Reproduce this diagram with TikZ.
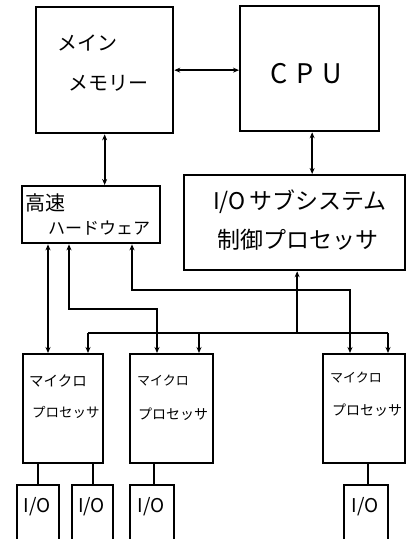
\documentclass[tikz,border=0pt]{standalone}
\usepackage{fontspec}
\newfontfamily\jp{Noto Sans CJK JP}
\usetikzlibrary{arrows.meta}
\tikzset{
  box/.style={draw, line width=2.3pt, rectangle, inner sep=0pt, anchor=north west},
  lbl/.style={inner sep=0pt, anchor=west, font=\jp},
  conn/.style={line width=2pt, {Stealth[length=6pt,width=5pt]}-{Stealth[length=6pt,width=5pt]}},
  toarr/.style={line width=2pt, -{Stealth[length=6pt,width=5pt]}},
  plain/.style={line width=2pt},
}
\begin{document}
\begin{tikzpicture}[x=1pt,y=-1pt]
\useasboundingbox (0,0) rectangle (414,539);
\clip (0,0) rectangle (414,539);
% boxes
\node[box, minimum width=137pt, minimum height=126pt] (mem) at (35,6) {};
\node[box, minimum width=139pt, minimum height=125pt] (cpu) at (239,5) {};
\node[box, minimum width=138pt, minimum height=57pt] (hs) at (21,185) {};
\node[box, minimum width=221pt, minimum height=95pt] (ioc) at (183,174) {};
\node[box, minimum width=80pt, minimum height=109pt] (mp1) at (22,353) {};
\node[box, minimum width=83pt, minimum height=109pt] (mp2) at (129,353) {};
\node[box, minimum width=82pt, minimum height=109pt] (mp3) at (322,353) {};
\node[box, minimum width=42pt, minimum height=62pt] (io1) at (16,484) {};
\node[box, minimum width=41pt, minimum height=62pt] (io2) at (71,484) {};
\node[box, minimum width=44pt, minimum height=62pt] (io3) at (129,484) {};
\node[box, minimum width=44pt, minimum height=62pt] (io4) at (343,484) {};
% texts
\node[lbl, font=\jp\fontsize{20}{20}\selectfont] (t1) at (57,43) {メイン};
\node[lbl, font=\jp\fontsize{20}{20}\selectfont] (t2) at (68,83) {メモリー};
\node[lbl, font=\jp\fontsize{27}{27}\selectfont] (t3) at (270,74) {C\hspace{9pt}P\hspace{9pt}U};
\node[lbl, font=\jp\fontsize{20}{20}\selectfont] (t4) at (25,203) {高速};
\node[lbl, font=\jp\fontsize{17}{17}\selectfont] (t5) at (48,228) {ハードウェア};
\node[lbl, font=\jp\fontsize{23}{23}\selectfont] (t6) at (213,202) {I/O\,サブシステム};
\node[lbl, font=\jp\fontsize{23}{23}\selectfont] (t7) at (217,240) {制御プロセッサ};
\node[lbl, font=\jp\fontsize{14.5}{14.5}\selectfont] (m1a) at (29,381) {マイクロ};
\node[lbl, font=\jp\fontsize{13.5}{13.5}\selectfont] (m1b) at (32,412) {プロセッサ};
\node[lbl, font=\jp\fontsize{13}{13}\selectfont] (m2a) at (137,381) {マイクロ};
\node[lbl, font=\jp\fontsize{14}{14}\selectfont] (m2b) at (138,414) {プロセッサ};
\node[lbl, font=\jp\fontsize{13}{13}\selectfont] (m3a) at (330,378) {マイクロ};
\node[lbl, font=\jp\fontsize{14}{14}\selectfont] (m3b) at (332,410) {プロセッサ};
\node[inner sep=0pt, font=\jp\fontsize{19}{19}\selectfont] (i1) at (37,507) {I/O};
\node[inner sep=0pt, font=\jp\fontsize{19}{19}\selectfont] (i2) at (91.5,507) {I/O};
\node[inner sep=0pt, font=\jp\fontsize{19}{19}\selectfont] (i3) at (151,507) {I/O};
\node[inner sep=0pt, font=\jp\fontsize{19}{19}\selectfont] (i4) at (365,507) {I/O};
% connectors
\draw[conn] (mem.east) -- (mem.east -| cpu.west);
\draw[conn] (mem.south) -- (mem.south |- hs.north);
\draw[conn] ([xshift=2.5pt]cpu.south) -- ([xshift=2.5pt]cpu.south |- ioc.north);
\draw[conn] ([xshift=27pt]hs.south west) -- ([xshift=27pt]hs.south west |- mp1.north);
\draw[conn] ([xshift=48pt]hs.south west) -- ++(0,65) -| ([xshift=28pt]mp2.north west);
\draw[conn] ([xshift=111pt]hs.south west) -- ++(0,46) -| ([xshift=28pt]mp3.north west);
\coordinate (busL) at (88,333);
\coordinate (busM) at (199,333);
\coordinate (busR) at (388,333);
\draw[plain] (busL) -- (busR);
\draw[toarr] ([xshift=2.5pt]ioc.south |- busL) -- ([xshift=2.5pt]ioc.south);
\draw[toarr] (busL) -- (busL |- mp1.north);
\draw[toarr] (busM) -- (busM |- mp2.north);
\draw[toarr] (busR) -- (busR |- mp3.north);
\draw[plain] (io1.north |- mp1.south) -- (io1.north);
\draw[plain] (io2.north |- mp1.south) -- (io2.north);
\draw[plain] ([xshift=2pt]io3.north |- mp2.south) -- ([xshift=2pt]io3.north);
\draw[plain] ([xshift=2pt]io4.north |- mp3.south) -- ([xshift=2pt]io4.north);
\end{tikzpicture}
\end{document}
